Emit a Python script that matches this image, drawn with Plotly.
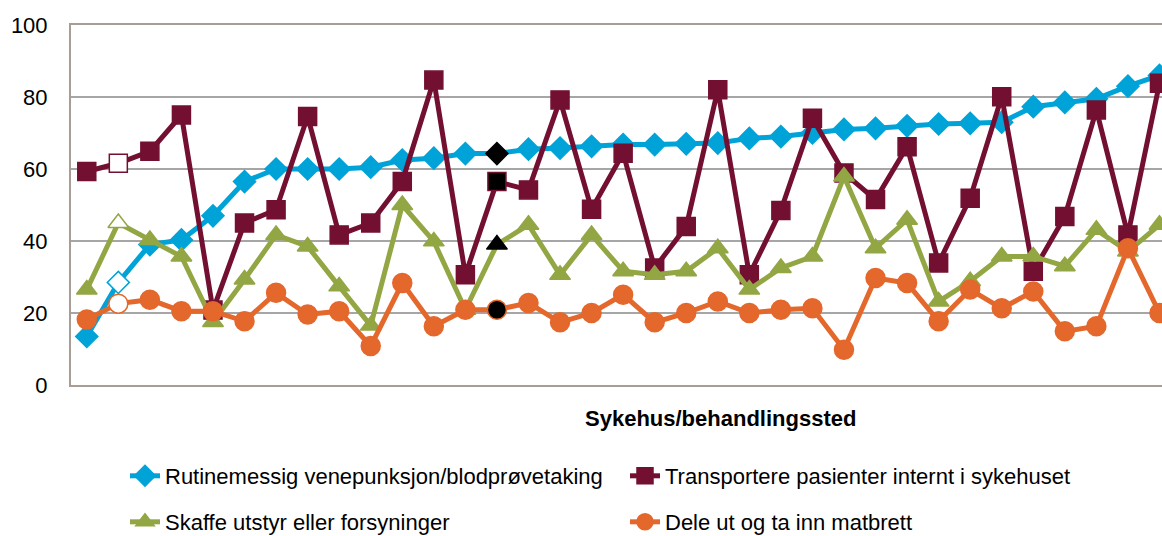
import plotly.graph_objects as go

hospitals = list(range(1, 36))

rutine = [13.5, 28.5, 39, 40.3, 47, 56.5, 60, 60, 60, 60.5,
          62.5, 63, 64.3, 64.3, 65.5, 65.8, 66.3, 66.8, 66.8, 67,
          67.2, 68.5, 69, 70, 71, 71.3, 72, 72.5, 72.7, 73,
          77.3, 78.5, 79.5, 83, 86]
transport = [59.3, 61.6, 64.9, 75, 20.8, 45, 48.7, 74.6, 41.7, 45,
             56.5, 84.7, 30.6, 56.5, 54.2, 79.2, 48.8, 64.4, 32.5, 44,
             82, 30.6, 48.5, 74.1, 58.9, 51.5, 66.2, 33.9, 51.9, 80.1,
             31.6, 46.8, 76.4, 41.7, 83.8]
skaffe = [26.5, 45, 40.3, 35.7, 17.5, 29.3, 41.7, 38.5, 27.4, 16.5,
          50, 39.9, 20.9, 39, 44.5, 30.6, 41.7, 31.6, 30.6, 31.6,
          38, 26.5, 32.5, 35.7, 57.9, 38, 45.9, 23.2, 28.8, 35.7,
          35.7, 33, 43.1, 37.1, 44.5]
dele = [18.2, 22.6, 23.7, 20.5, 20.5, 17.7, 25.6, 19.6, 20.5, 10.8,
        28.3, 16.3, 20.9, 20.9, 22.8, 17.4, 20, 25.1, 17.4, 20,
        23.2, 20, 20.9, 21.3, 9.8, 29.7, 28.3, 17.7, 26.5, 21.3,
        26, 14.9, 16.3, 38, 20]

names = ["Rutinemessig venepunksjon/blodprøvetaking",
         "Transportere pasienter internt i sykehuset",
         "Skaffe utstyr eller forsyninger",
         "Dele ut og ta inn matbrett"]
y_ticks = [0, 20, 40, 60, 80, 100]
x_title = "Sykehus/behandlingssted"

colors = ["#00A3D8", "#731031", "#93A644", "#E4672C"]
symbols = ["diamond", "square", "triangle-up", "circle"]
sizes = [17, 18, 18, 19]
series = [rutine, transport, skaffe, dele]
legends = ["legend", "legend", "legend2", "legend2"]

FONT = "Liberation Sans, Arial, sans-serif"

fig = go.Figure()
n = len(hospitals)
for name, vals, col, sym, sz, lg in zip(names, series, colors, symbols, sizes, legends):
    fills = [col] * n
    lines = [col] * n
    fills[1] = "white"
    fills[13] = "black"
    if sym != "square":
        lines[13] = "black" if sym != "circle" else col
    fig.add_trace(go.Scatter(
        x=hospitals, y=vals, name=name, mode="lines+markers",
        line=dict(color=col, width=5),
        marker=dict(symbol=sym, size=sz, color=fills,
                    line=dict(color=lines, width=1.5)),
        legend=lg,
    ))

W, H = 1162, 536
leg_common = dict(orientation="h", xref="container", yref="container",
                  xanchor="left", yanchor="middle",
                  entrywidth=455, entrywidthmode="pixels",
                  bgcolor="rgba(0,0,0,0)",
                  font=dict(family=FONT, size=22, color="#000000"))

fig.update_layout(
    width=W, height=H,
    margin=dict(l=71, r=0, t=25, b=151, autoexpand=False),
    paper_bgcolor="white", plot_bgcolor="white",
    font=dict(family=FONT, size=22, color="#000000"),
    showlegend=True,
    legend=dict(x=125 / W, y=1 - 476 / H, **leg_common),
    legend2=dict(x=125 / W, y=1 - 522 / H, **leg_common),
    xaxis=dict(range=[0.5, 35.08], showticklabels=False, showgrid=False,
               zeroline=False, showline=True, linecolor="#A89C94", linewidth=2,
               mirror=True, ticks=""),
    yaxis=dict(range=[0, 100], tickvals=y_ticks, showgrid=True,
               gridcolor="#A6A6A6", gridwidth=1.5, zeroline=False,
               showline=True, linecolor="#A89C94", linewidth=2,
               ticks="outside", ticklen=17, tickcolor="rgba(0,0,0,0)",
               tickfont=dict(family=FONT, size=22, color="#000000")),
    annotations=[dict(text="<b>" + x_title + "</b>", xref="paper", yref="paper",
                      x=(720 - 71) / 1091, y=-0.0917, xanchor="center", yanchor="middle",
                      showarrow=False, font=dict(family=FONT, size=22, color="#000000"))],
)

fig.write_html("out.html", config={"displayModeBar": False},
               post_script="document.body.style.margin='0';document.body.style.overflow='hidden';")
